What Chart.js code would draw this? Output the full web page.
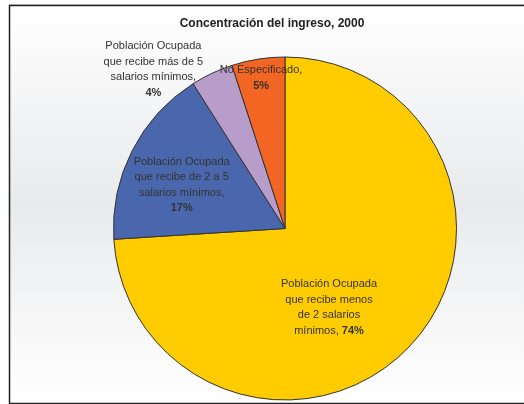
<!DOCTYPE html>
<html>
<head>
<meta charset="utf-8">
<script src="https://cdn.jsdelivr.net/npm/chart.js@4/dist/chart.umd.min.js"></script>
<style>
  html, body { margin: 0; padding: 0; background: #fff; }
  canvas { display: block; }
</style>
</head>
<body>
<canvas id="grafica" width="524" height="404"></canvas>
<script>
'use strict';
/*-------------------------------------------------------*\
     Datos: concentración del ingreso, 2000
\*-------------------------------------------------------*/
var titulo = 'Concentración del ingreso, 2000';
var categorias = [
  'Población Ocupada que recibe menos de 2 salarios mínimos',
  'Población Ocupada que recibe de 2 a 5 salarios mínimos',
  'Población Ocupada que recibe más de 5 salarios mínimos',
  'No Especificado'
];
var porcentajes = [74, 17, 4, 5];
var colores = ['#ffcc00', '#4a67ae', '#b89cca', '#f26522'];

// Cortes de línea de cada etiqueta; el porcentaje se agrega en negrita
var lineas = [
  ['Población Ocupada', 'que recibe menos', 'de 2 salarios', 'mínimos, '],
  ['Población Ocupada', 'que recibe de 2 a 5', 'salarios mínimos,', ''],
  ['Población Ocupada', 'que recibe más de 5', 'salarios mínimos,', ''],
  ['No Especificado,', '']
];
// Posición de cada etiqueta: fracción del radio sobre el ángulo medio + ajuste
var posEtiquetas = [
  { frac: 0.52, dx: -21, dy: 18 },
  { frac: 0.65, dx: -4, dy: 7 },
  { frac: 1.2, dx: -44, dy: 27 },
  { frac: 0.89, dx: 0, dy: 0 }
];

var FUENTE = '"Liberation Sans", Arial, sans-serif';

/*-------------------------------------------------------*\
     Fondo con degradado y marco
\*-------------------------------------------------------*/
var fondo = {
  id: 'fondo',
  beforeDraw: function(chart) {
    var ctx = chart.ctx;
    ctx.save();
    ctx.fillStyle = '#ffffff';
    ctx.fillRect(0, 0, chart.width, chart.height);
    var grad = ctx.createLinearGradient(0, 5, 0, 403);
    grad.addColorStop(0, '#ffffff');
    grad.addColorStop(0.5, '#e9eaec');
    grad.addColorStop(1, '#ffffff');
    ctx.fillStyle = grad;
    ctx.fillRect(9, 5, chart.width, 398);
    ctx.strokeStyle = '#cccccc';
    ctx.lineWidth = 1;
    ctx.beginPath();
    ctx.moveTo(9, 4.5);
    ctx.lineTo(chart.width, 4.5);
    ctx.stroke();
    ctx.strokeStyle = '#222222';
    ctx.lineWidth = 1.5;
    ctx.beginPath();
    ctx.moveTo(chart.width + 2, 5.5);
    ctx.lineTo(9.5, 5.5);
    ctx.lineTo(9.5, 403.5);
    ctx.lineTo(chart.width + 2, 403.5);
    ctx.stroke();
    // título
    ctx.fillStyle = '#222222';
    ctx.font = 'bold 12px ' + FUENTE;
    ctx.textAlign = 'center';
    ctx.textBaseline = 'middle';
    ctx.fillText(titulo, 272, 24);
    ctx.restore();
  }
};

/*-------------------------------------------------------*\
     Etiquetas de cada sector
\*-------------------------------------------------------*/
var etiquetas = {
  id: 'etiquetas',
  afterDatasetsDraw: function(chart) {
    var ctx = chart.ctx;
    var arcos = chart.getDatasetMeta(0).data;
    var lh = 15.5;
    ctx.save();
    ctx.textBaseline = 'middle';
    ctx.textAlign = 'left';
    arcos.forEach(function(arco, i) {
      var p = posEtiquetas[i];
      var medio = (arco.startAngle + arco.endAngle) / 2;
      var cx = arco.x + Math.cos(medio) * arco.outerRadius * p.frac + p.dx;
      var cy = arco.y + Math.sin(medio) * arco.outerRadius * p.frac + p.dy;
      var ls = lineas[i];
      var n = ls.length;
      ls.forEach(function(texto, k) {
        var y = cy + (k - (n - 1) / 2) * lh;
        var negrita = k === n - 1 ? porcentajes[i] + '%' : '';
        ctx.font = '11px ' + FUENTE;
        var w1 = ctx.measureText(texto).width;
        ctx.font = 'bold 11px ' + FUENTE;
        var w2 = negrita ? ctx.measureText(negrita).width : 0;
        var x0 = cx - (w1 + w2) / 2;
        ctx.fillStyle = '#333333';
        ctx.font = '11px ' + FUENTE;
        ctx.fillText(texto, x0, y);
        if (negrita) {
          ctx.font = 'bold 11px ' + FUENTE;
          ctx.fillText(negrita, x0 + w1, y);
        }
      });
    });
    ctx.restore();
  }
};

new Chart(document.getElementById('grafica'), {
  type: 'pie',
  data: {
    labels: categorias,
    datasets: [{
      data: porcentajes,
      backgroundColor: colores,
      borderColor: '#333333',
      borderWidth: 1
    }]
  },
  options: {
    responsive: false,
    animation: false,
    layout: { padding: { left: 113, right: 67, top: 56, bottom: 3 } },
    plugins: {
      legend: { display: false },
      title: { display: false },
      tooltip: { enabled: false }
    }
  },
  plugins: [fondo, etiquetas]
});
</script>
</body>
</html>
